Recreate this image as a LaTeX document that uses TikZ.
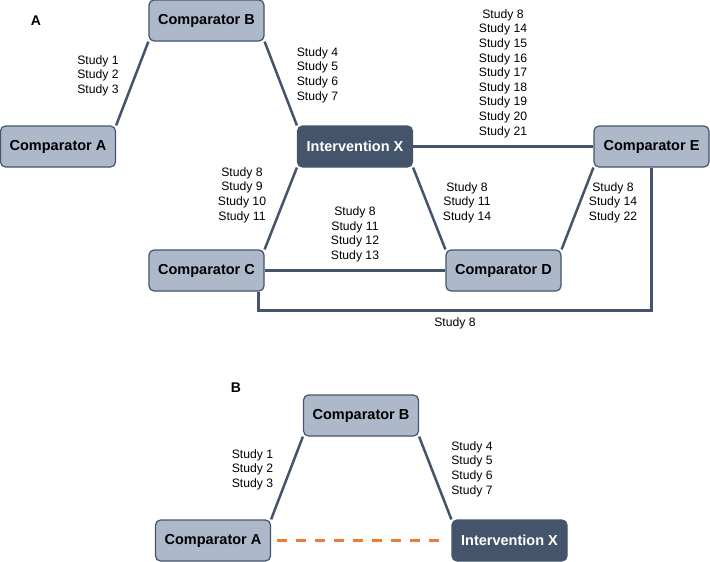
\documentclass[tikz,border=0pt]{standalone}
\usepackage{fontspec}
\setmainfont{Liberation Sans}
\usepackage{xcolor}
\usetikzlibrary{shapes,arrows,positioning,calc}

\definecolor{darknode}{HTML}{44546A}
\definecolor{lightnode}{HTML}{ADB9CA}
\definecolor{linkcol}{HTML}{44546A}
\definecolor{indirect}{HTML}{ED7D31}

\tikzset{
    comp/.style={rectangle, rounded corners=5pt, draw=darknode, line width=1.2pt,
        fill=lightnode, minimum width=115pt, minimum height=41pt, inner sep=0pt,
        font=\fontsize{14.5}{17}\selectfont\bfseries},
    interv/.style={comp, fill=darknode, text=white},
    studies/.style={align=center, inner sep=0pt, font=\fontsize{12.2}{14.6}\selectfont},
    link/.style={draw=linkcol, line width=2.5pt},
    panel/.style={font=\fontsize{14}{16}\selectfont\bfseries}
}

\begin{document}
\begin{tikzpicture}[x=1pt, y=-1pt]
    \useasboundingbox (0,0) rectangle (710,562);

    % Panel A: network
    \node[panel] (labA) at (36,21) {A};
    \node[comp] (compB) at (206.5,20.5) {Comparator B};
    \node[comp] (compA) at (58,146.5) {Comparator A};
    \node[interv] (intX) at (355,146.5) {Intervention X};
    \node[comp] (compE) at (651.5,146.5) {Comparator E};
    \node[comp] (compC) at (206.5,270.5) {Comparator C};
    \node[comp] (compD) at (503.5,270.5) {Comparator D};
    \coordinate (turnC) at ($(compC.south east)+(-6,19)$);
    \coordinate (turnE) at (compE.south |- turnC);

    % Links
    \draw[link] (compA.north east) -- (compB.south west);
    \draw[link] (compB.south east) -- (intX.north west);
    \draw[link] (intX.east) -- (compE.west);
    \draw[link] (intX.south west) -- (compC.north east);
    \draw[link] (intX.south east) -- (compD.north west);
    \draw[link] (compD.north east) -- (compE.south west);
    \draw[link] (compC.east) -- (compD.west);
    \draw[link] ($(compC.south east)+(-6,0)$) -- (turnC) -- (turnE) -- (compE.south);

    % Study labels
    \node[studies] (sAB) at (98,75.5) {Study 1\\Study 2\\Study 3};
    \node[studies] (sBX) at (317.5,75) {Study 4\\Study 5\\Study 6\\Study 7};
    \node[studies] (sXE) at (503,73.5) {Study 8\\Study 14\\Study 15\\Study 16\\Study 17\\Study 18\\Study 19\\Study 20\\Study 21};
    \node[studies] (sXC) at (242,195) {Study 8\\Study 9\\Study 10\\Study 11};
    \node[studies] (sCD) at (355,234.5) {Study 8\\Study 11\\Study 12\\Study 13};
    \node[studies] (sXD) at (467,202.5) {Study 8\\Study 11\\Study 14};
    \node[studies] (sDE) at (613,202.5) {Study 8\\Study 14\\Study 22};
    \node[studies] (sCE) at (455,323) {Study 8};

    % Panel B: indirect comparison
    \node[panel] (labB) at (236,388) {B};
    \node[comp] (bcompB) at (361,415.5) {Comparator B};
    \node[comp] (bcompA) at (213,540.5) {Comparator A};
    \node[interv] (bintX) at (509.5,540.5) {Intervention X};

    \draw[link] (bcompA.north east) -- (bcompB.south west);
    \draw[link] (bcompB.south east) -- (bintX.north west);
    \draw[indirect, line width=2.5pt, dash pattern=on 10pt off 9pt] ($(bcompA.east)+(6,0)$) -- ($(bintX.west)+(-5,0)$);

    \node[studies] (bsAB) at (252.5,469.5) {Study 1\\Study 2\\Study 3};
    \node[studies] (bsBX) at (472,469) {Study 4\\Study 5\\Study 6\\Study 7};
\end{tikzpicture}
\end{document}
